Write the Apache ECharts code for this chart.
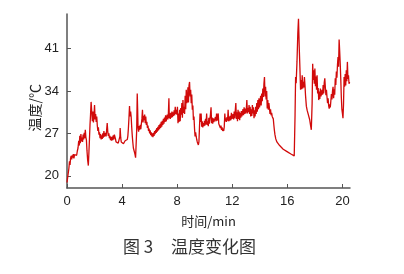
<!DOCTYPE html>
<html>
<head>
<meta charset="utf-8">
<script src="https://cdn.jsdelivr.net/npm/echarts@6/dist/echarts.min.js"></script>
<style>
html,body{margin:0;padding:0;background:#fff;}
#c{width:404px;height:274px;}
</style>
</head>
<body>
<div id="c"></div>
<script>
// Time (min) of each reading
var timeMin = [
0.00,0.05,0.10,0.14,0.18,0.22,0.26,0.30,0.34,0.38,0.42,0.46,0.50,0.55,0.60,0.65,0.70,0.75,0.80,0.85,0.89,0.93,0.97,1.01,1.05,1.09,1.13,1.17,1.21,1.25,1.29,1.33,1.37,1.41,1.45,1.50,1.55,1.59,1.63,1.67,1.71,1.75,1.80,1.84,1.88,1.92,1.96,2.00,2.04,2.08,2.12,2.16,2.20,2.24,2.28,2.32,2.36,2.40,2.44,2.48,2.52,2.56,2.60,2.64,2.68,2.72,
2.76,2.80,2.84,2.88,2.92,2.96,3.00,3.04,3.08,3.12,3.16,3.20,3.24,3.28,3.32,3.36,3.40,3.44,3.48,3.52,3.56,3.60,3.64,3.68,3.72,3.76,3.80,3.84,3.86,3.90,3.94,3.98,4.02,4.06,4.10,4.14,4.18,4.22,4.26,4.30,4.34,
4.38,4.42,4.46,4.50,4.54,4.58,4.62,4.66,4.70,4.74,4.78,4.82,4.86,4.90,4.94,4.98,5.02,5.06,5.10,5.13,5.16,5.20,5.24,5.28,5.32,5.36,
5.40,5.44,5.48,5.52,5.56,5.60,5.64,5.68,5.72,5.76,5.80,5.84,5.88,5.92,5.96,6.00,6.04,6.08,6.12,6.16,6.20,6.24,6.28,6.32,6.36,6.40,6.44,6.48,6.52,6.56,6.60,6.64,6.68,6.72,6.76,6.80,6.84,6.88,6.92,6.96,7.00,7.04,7.08,7.12,7.16,7.20,
7.24,7.28,7.32,7.36,7.40,7.43,7.46,7.50,7.54,7.58,7.62,7.66,7.70,7.74,7.78,7.82,7.86,7.90,7.94,7.98,8.02,8.06,8.10,8.14,8.18,8.22,8.26,8.30,8.34,8.38,8.42,8.46,8.50,8.54,8.58,8.62,8.66,8.70,
8.74,8.78,8.82,8.86,8.90,8.94,8.98,9.02,9.06,9.10,9.14,9.18,9.22,9.26,9.30,
9.34,9.38,9.42,9.46,9.50,9.54,9.58,9.62,9.66,9.70,9.74,9.78,9.82,9.86,9.90,9.94,9.98,10.02,10.06,10.10,10.14,10.18,10.22,10.26,10.30,10.34,
10.38,10.42,10.46,10.50,10.54,10.58,10.62,10.66,10.70,10.74,10.78,10.82,10.86,10.90,10.94,10.98,11.02,11.06,11.10,11.14,11.18,11.22,11.26,11.30,11.34,11.38,11.42,11.46,11.50,11.54,11.58,11.62,11.66,11.70,11.74,11.78,11.82,11.86,11.90,11.94,11.98,
12.02,12.06,12.10,12.14,12.18,12.22,12.26,12.30,12.34,12.38,12.42,12.46,12.50,12.54,12.58,12.62,12.66,12.70,12.74,12.78,12.82,12.86,12.90,12.94,12.98,
13.02,13.06,13.10,13.14,13.18,13.22,13.26,13.30,13.34,13.38,13.42,13.46,13.50,13.54,13.58,13.62,13.66,13.70,13.74,13.78,13.82,13.86,13.90,13.94,13.98,
14.02,14.06,14.10,14.14,14.18,14.22,14.26,14.30,14.34,14.38,14.42,14.46,14.50,14.54,14.58,14.62,14.66,
14.70,14.74,14.78,14.82,14.86,14.90,14.94,14.98,15.02,15.06,15.10,15.16,15.24,15.32,15.44,15.56,15.70,15.84,15.98,16.12,16.26,16.40,16.50,16.56,16.60,
16.64,16.70,16.76,16.81,16.86,16.91,16.96,17.00,17.04,17.08,17.12,17.16,17.20,17.24,17.28,17.32,17.38,17.44,17.50,
17.56,17.62,17.68,17.74,17.80,17.84,17.88,17.92,17.96,18.00,18.04,18.08,18.12,18.16,18.20,18.24,18.28,18.32,18.36,18.40,18.44,
18.48,18.52,18.56,18.60,18.64,18.68,18.72,18.76,18.80,18.84,18.88,18.92,18.96,19.00,19.04,19.08,19.12,
19.16,19.20,19.24,19.28,19.32,19.36,19.40,19.44,19.48,19.52,19.56,19.60,19.64,19.68,19.72,19.76,
19.80,19.84,19.88,19.92,19.96,20.00,20.04,20.08,20.12,20.16,20.20,20.24,20.28,20.32,20.36,20.40,20.44,20.48,20.52
];
// Temperature (°C) of each reading
var tempC = [
18.9,19.8,20.6,21.3,22.4,21.8,22.9,23.3,22.7,23.4,23.0,23.6,22.9,23.5,23.2,23.8,23.4,24.1,24.6,25.8,25.0,26.6,25.4,26.9,25.7,26.3,25.6,26.8,26.0,27.1,26.2,27.6,26.4,25.9,24.2,22.6,21.7,23.8,26.0,28.4,30.1,32.2,30.5,29.0,30.6,28.8,29.9,31.7,29.3,30.2,28.9,29.8,28.3,27.4,28.0,26.8,27.2,26.2,26.9,26.0,26.7,26.1,27.0,26.3,27.4,26.5,
26.4,27.1,26.5,27.6,28.7,27.3,26.6,27.0,26.2,26.6,25.9,26.4,25.8,26.5,25.9,26.7,26.0,26.8,27.0,26.1,25.6,25.8,25.3,25.6,25.4,25.7,25.2,26.5,27.9,26.3,25.6,25.9,25.4,25.7,25.3,25.6,25.4,25.8,25.5,26.0,25.8,
26.0,26.6,27.9,29.6,31.5,29.8,30.6,29.7,28.0,26.6,25.5,24.6,24.9,23.9,23.5,23.0,22.8,27.5,33.6,31.0,27.9,27.3,28.2,27.6,28.4,27.7,
28.6,29.4,30.9,28.8,29.9,29.2,30.1,28.7,29.8,28.4,28.9,27.9,28.3,27.4,27.8,27.0,27.5,26.7,27.2,26.5,27.0,26.4,27.1,26.6,27.4,26.9,27.6,27.1,27.9,27.3,28.1,27.5,28.4,27.7,28.6,27.9,28.9,28.1,29.1,28.4,29.4,28.6,29.6,28.9,30.0,29.0,
29.2,30.1,29.3,30.2,32.8,29.5,30.3,29.4,30.4,29.6,30.6,29.7,30.5,29.9,30.8,30.0,31.4,30.2,30.9,30.1,31.4,28.7,30.3,28.9,30.9,29.0,31.2,30.1,32.0,29.6,32.5,30.4,31.4,30.2,33.2,31.0,34.2,32.0,
32.4,34.6,32.1,34.9,35.5,33.1,34.2,32.0,33.4,30.9,31.6,29.2,29.8,27.8,26.5,
27.2,26.5,26.0,25.6,25.3,25.1,25.6,28.0,30.3,28.9,30.3,28.1,29.0,28.0,28.7,28.2,29.1,28.3,29.4,28.5,30.3,28.4,29.0,28.2,29.6,28.6,
29.4,30.2,31.3,28.7,29.6,28.6,29.5,28.9,29.2,28.6,29.7,29.0,30.3,29.1,29.8,30.3,28.6,28.4,28.7,27.9,28.3,27.6,28.0,27.4,27.8,27.4,28.1,30.3,29.0,29.5,28.9,29.7,29.1,30.9,29.0,29.8,29.1,29.9,29.2,30.4,29.4,
29.6,30.2,29.3,30.6,29.5,30.8,32.0,29.4,30.5,29.0,30.9,29.4,30.6,29.2,30.4,29.6,30.7,29.8,30.1,31.0,30.0,31.3,30.2,31.1,30.3,
30.9,32.5,30.3,31.2,30.5,31.7,30.2,31.4,29.8,31.0,29.9,31.7,30.3,31.3,29.5,30.8,29.8,31.4,30.2,32.0,30.6,32.5,31.0,32.8,31.3,
32.0,33.2,31.6,33.6,32.3,34.4,33.0,35.2,36.3,33.1,34.7,32.6,34.0,31.1,32.5,30.9,32.0,
31.2,30.2,31.0,30.0,30.4,29.8,30.1,29.4,28.4,27.5,26.8,26.1,25.6,25.3,25.0,24.7,24.4,24.2,24.0,23.8,23.6,23.4,23.3,30.0,36.3,
35.3,38.8,43.5,45.9,41.5,38.0,34.2,35.8,34.3,36.6,34.4,35.5,34.6,36.3,35.0,33.3,31.5,30.8,30.3,
30.0,29.3,28.4,27.6,32.0,38.5,35.8,37.4,35.2,37.7,34.8,36.4,34.2,36.6,33.6,34.5,32.5,33.9,32.7,34.4,33.1,
33.6,34.2,33.4,35.0,33.6,35.4,36.1,34.6,33.3,34.2,33.0,32.0,32.8,31.6,31.1,31.8,31.3,
32.4,33.5,32.6,34.0,34.7,32.8,34.3,33.4,36.1,35.0,37.2,36.2,38.3,39.6,38.0,42.5,
40.6,38.5,36.0,33.0,31.0,30.3,29.5,31.8,36.3,34.7,36.8,34.9,37.4,35.6,38.8,36.0,36.6,35.2,35.5
];
// Axis tick values
var xTicks = [0, 4, 8, 12, 16, 20];
var yTicks = [20, 27, 34, 41];

var seriesData = timeMin.map(function (t, i) { return [t, tempC[i]]; });

var chart = echarts.init(document.getElementById('c'), null, {renderer: 'canvas'});
var axisColor = '#555';
var labelFont = 'Liberation Sans, Arial, sans-serif';
chart.setOption({
  animation: false,
  backgroundColor: '#ffffff',
  grid: {left: 67, right: 54, top: 14, bottom: 86, containLabel: false},
  xAxis: {
    type: 'value',
    min: 0, max: 20.55,
    axisLine: {show: true, lineStyle: {color: axisColor, width: 1.5}},
    axisTick: {show: true, inside: true, length: 4, customValues: xTicks, lineStyle: {color: axisColor}},
    axisLabel: {customValues: xTicks, color: '#222', fontSize: 13, fontFamily: labelFont, margin: 7},
    splitLine: {show: false},
    name: '时间/min',
    nameLocation: 'middle',
    nameGap: 27,
    nameTextStyle: {color: '#222', fontSize: 13, fontFamily: 'Noto Sans CJK SC'}
  },
  yAxis: {
    type: 'value',
    min: 18, max: 46.7,
    axisLine: {show: true, lineStyle: {color: axisColor, width: 1.5}},
    axisTick: {show: true, inside: true, length: 4, customValues: yTicks, lineStyle: {color: axisColor}},
    axisLabel: {customValues: yTicks, color: '#222', fontSize: 13, fontFamily: labelFont, margin: 8},
    splitLine: {show: false}
  },
  graphic: [
    {type: 'text', left: 28, top: 84, rotation: Math.PI / 2,
     style: {text: '温度/℃', fill: '#222', font: '14px "Noto Sans CJK SC"'}},
    {type: 'text', left: 123, top: 238,
     style: {text: '图 3', fill: '#333', font: '17px "Noto Sans CJK SC"'}},
    {type: 'text', left: 171, top: 238,
     style: {text: '温度变化图', fill: '#333', font: '17px "Noto Sans CJK SC"'}}
  ],
  series: [{
    type: 'line',
    data: seriesData,
    showSymbol: false,
    symbol: 'none',
    lineStyle: {color: '#d10a0a', width: 1.3},
    z: 3
  }]
});
</script>
</body>
</html>
